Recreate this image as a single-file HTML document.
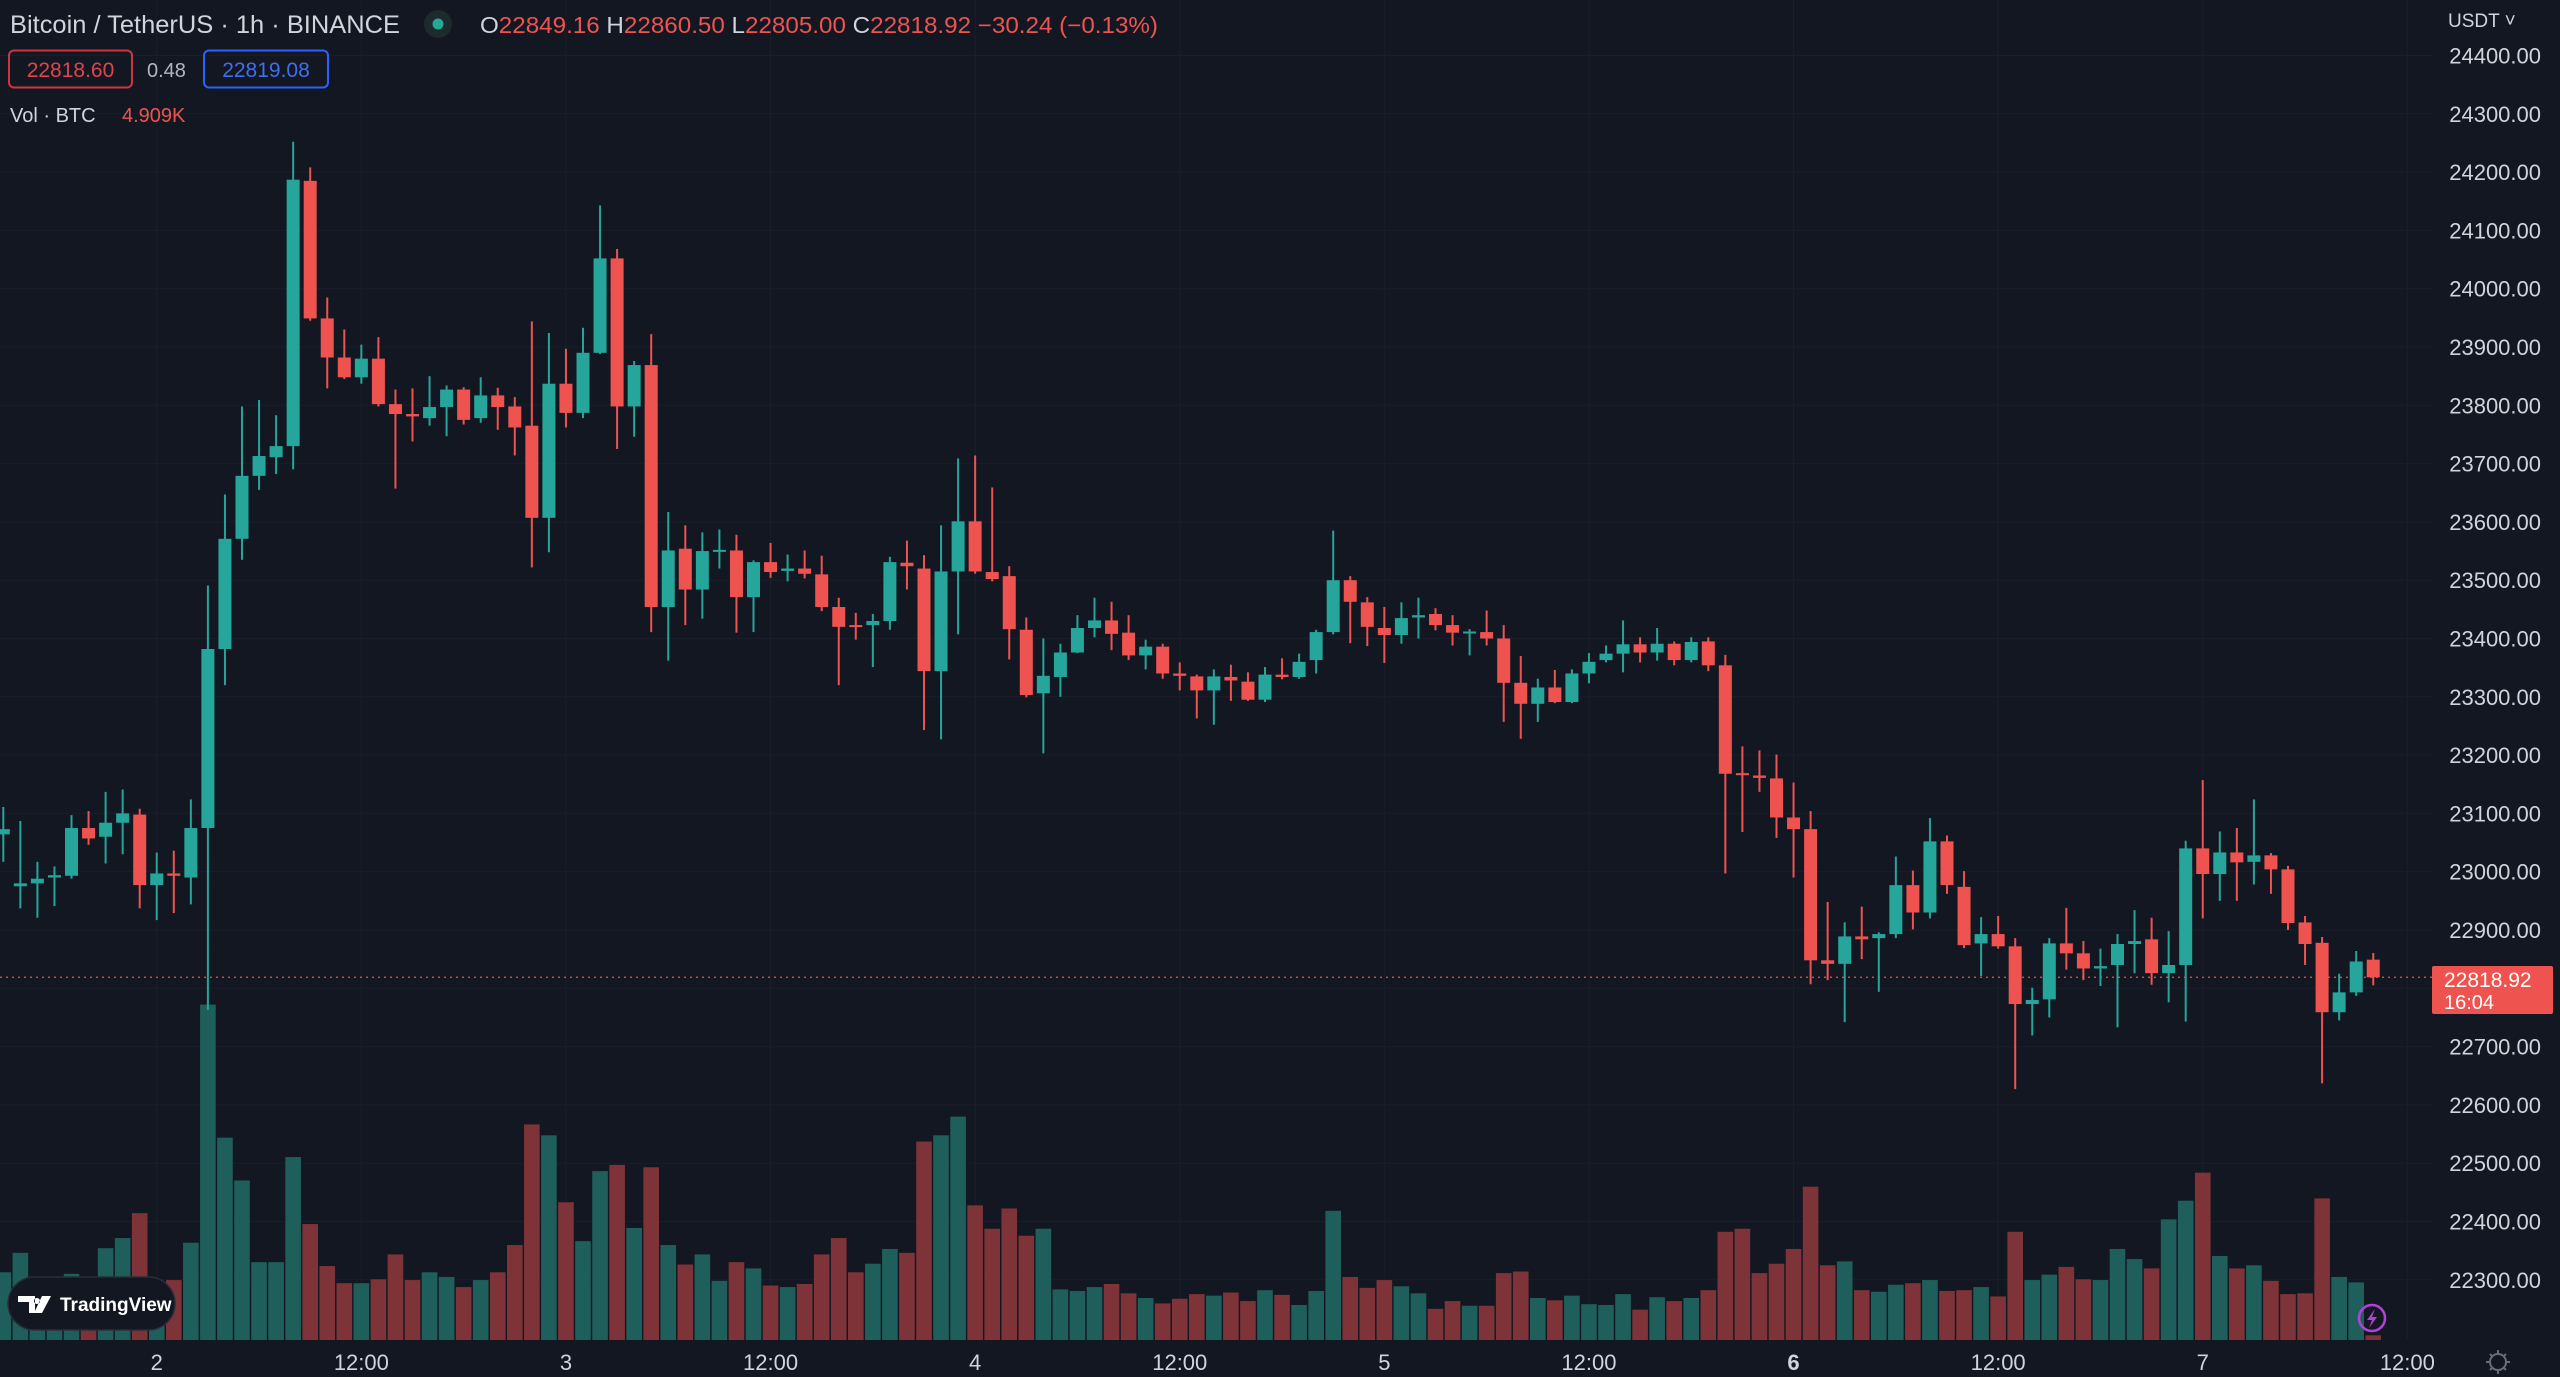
<!DOCTYPE html>
<html><head><meta charset="utf-8">
<style>
html,body{margin:0;padding:0;background:#131722;}
body{width:2560px;height:1377px;overflow:hidden;font-family:"Liberation Sans",sans-serif;}
svg{display:block;}
</style></head>
<body>
<svg id="chart" width="2560" height="1377" viewBox="0 0 2560 1377" xmlns="http://www.w3.org/2000/svg">
<rect x="0" y="0" width="2560" height="1377" fill="#131722"/>
<g id="grid"></g>
<g id="vol"></g>
<g id="candles"></g>
<g id="axis"></g>
<g id="taxis"></g>

<g font-family="Liberation Sans, sans-serif">
 <text x="10" y="33" font-size="25" fill="#d1d4dc" textLength="390" lengthAdjust="spacingAndGlyphs">Bitcoin / TetherUS · 1h · BINANCE</text>
 <circle cx="438" cy="24" r="14" fill="#1e2b2e"/>
 <circle cx="438" cy="24" r="5.5" fill="#22ab94"/>
 <text x="480" y="33" font-size="23" fill="#ef5350" textLength="678" lengthAdjust="spacingAndGlyphs"><tspan fill="#d1d4dc">O</tspan>22849.16 <tspan fill="#d1d4dc">H</tspan>22860.50 <tspan fill="#d1d4dc">L</tspan>22805.00 <tspan fill="#d1d4dc">C</tspan>22818.92 −30.24 (−0.13%)</text>
 <rect x="9" y="50.5" width="123" height="37" rx="5" fill="none" stroke="#d0353f" stroke-width="2"/>
 <text x="70.5" y="77" font-size="21" fill="#e0444d" text-anchor="middle">22818.60</text>
 <text x="147" y="77" font-size="20" fill="#b2b5be">0.48</text>
 <rect x="204" y="50.5" width="124" height="37" rx="5" fill="none" stroke="#2962ff" stroke-width="2"/>
 <text x="266" y="77" font-size="21" fill="#3d6ff0" text-anchor="middle">22819.08</text>
 <text x="10" y="122" font-size="20" fill="#d1d4dc">Vol · BTC</text>
 <text x="122" y="122" font-size="20" fill="#ef5350">4.909K</text>
 <text x="2448" y="27" font-size="19" fill="#d1d4dc">USDT ˅</text>
</g>

<g>
 <rect x="8" y="1277" width="167" height="53" rx="26.5" fill="#131722" stroke="#2a2e39" stroke-width="1.5"/>
 <path d="M18 1296 h17 v17 h-6 v-11 h-11 z M37 1298 a3 3 0 1 0 0.01 0 M42 1296 h9 l-9 17 h-8 z" fill="#ffffff"/>
 <text x="60" y="1311" font-size="19" font-weight="bold" fill="#ffffff">TradingView</text>
</g>

<g>
 <rect x="2432" y="966" width="121" height="48" rx="2" fill="#ef5350"/>
 <text x="2444" y="987" font-size="21" fill="#ffffff">22818.92</text>
 <text x="2444" y="1009" font-size="20" fill="#ffffff">16:04</text>
</g>

<g>
 <circle cx="2372" cy="1318" r="13" fill="none" stroke="#b042d6" stroke-width="2.5"/>
 <path d="M2375 1309 l-8 11 h5 l-3 8 l8 -11 h-5 z" fill="#b042d6"/>
</g>
<g stroke="#6a6d78" stroke-width="2" fill="none">
 <circle cx="2498" cy="1362" r="8"/>
 <path d="M2498 1350 v4 M2498 1370 v4 M2486 1362 h4 M2506 1362 h4 M2490 1354 l2.5 2.5 M2503.5 1367.5 l2.5 2.5 M2490 1370 l2.5 -2.5 M2503.5 1356.5 l2.5 -2.5"/>
</g>

<script>
// ---- data: hourly candles ----
const opens = [23064,22975,22980,22990,22993,23075,23060,23084,23098,22977,22997,22990,23075,23382,23571,23679,23711,23730,24185,23949,23882,23848,23880,23802,23785,23778,23797,23827,23778,23817,23798,23765,23607,23837,23787,23890,24052,23798,23869,23454,23554,23484,23550,23551,23471,23531,23516,23520,23510,23454,23423,23423,23430,23530,23520,23344,23515,23601,23514,23507,23415,23306,23334,23376,23418,23431,23410,23371,23386,23340,23335,23311,23334,23326,23295,23338,23334,23363,23411,23500,23462,23418,23406,23436,23442,23423,23410,23411,23400,23324,23288,23316,23291,23340,23363,23374,23390,23376,23391,23363,23395,23354,23169,23165,23160,23093,23073,22848,22842,22889,22886,22893,22977,22930,23052,22974,22877,22893,22872,22773,22781,22877,22860,22834,22840,22876,22884,22826,22840,23040,22996,23033,23017,23028,23004,22913,22878,22759,22793,22849.16];
const highs = [23111,23087,23017,23009,23097,23104,23137,23141,23108,23033,23036,23124,23491,23647,23798,23809,23783,24252,24208,23985,23930,23904,23917,23827,23829,23850,23834,23831,23848,23830,23814,23944,23924,23897,23933,24143,24068,23876,23922,23617,23594,23582,23587,23578,23534,23564,23544,23551,23542,23470,23444,23442,23540,23568,23543,23594,23709,23714,23659,23524,23436,23400,23391,23440,23470,23463,23440,23398,23391,23359,23338,23347,23355,23342,23351,23366,23374,23415,23585,23507,23471,23454,23462,23470,23452,23440,23416,23448,23423,23370,23331,23346,23347,23375,23388,23431,23402,23418,23395,23402,23402,23372,23215,23208,23201,23153,23104,22948,22913,22940,22896,23026,23002,23092,23062,23001,22922,22924,22886,22801,22886,22938,22881,22868,22893,22934,22921,22898,23053,23157,23069,23075,23124,23032,23010,22924,22888,22825,22864,22860.50];
const lows = [23017,22937,22921,22941,22988,23046,23014,23030,22937,22917,22929,22944,22763,23320,23535,23655,23682,23690,23945,23829,23845,23837,23798,23657,23738,23765,23747,23767,23770,23758,23714,23522,23548,23762,23778,23888,23725,23746,23411,23362,23423,23434,23520,23410,23411,23504,23498,23503,23447,23320,23398,23351,23415,23484,23243,23227,23407,23511,23498,23364,23299,23203,23300,23375,23402,23380,23363,23347,23331,23311,23263,23252,23293,23293,23291,23330,23331,23340,23407,23392,23387,23358,23391,23400,23414,23388,23371,23388,23257,23228,23257,23289,23289,23323,23359,23342,23359,23362,23354,23359,23344,22997,23068,23137,23058,22990,22807,22814,22742,22850,22794,22886,22901,22920,22962,22869,22821,22868,22627,22719,22750,22832,22814,22804,22733,22826,22806,22776,22743,22920,22950,22950,22978,22962,22900,22840,22637,22745,22787,22805.00];
const closes = [23073,22980,22988,22994,23075,23057,23084,23100,22977,22997,22993,23075,23382,23571,23679,23713,23730,24187,23949,23882,23848,23880,23802,23785,23781,23797,23827,23775,23817,23797,23762,23607,23837,23787,23890,24052,23798,23869,23454,23551,23484,23550,23552,23471,23531,23514,23520,23511,23454,23420,23420,23430,23531,23524,23344,23515,23601,23515,23502,23416,23303,23336,23376,23418,23431,23408,23371,23386,23340,23336,23311,23335,23328,23295,23338,23334,23360,23411,23500,23463,23420,23406,23435,23440,23423,23410,23412,23400,23324,23288,23316,23291,23340,23360,23374,23390,23376,23391,23363,23394,23354,23168,23167,23161,23093,23073,22848,22842,22889,22884,22893,22977,22930,23052,22977,22874,22893,22872,22773,22780,22877,22860,22834,22838,22876,22881,22826,22840,23040,22996,23033,23016,23028,23004,22912,22876,22759,22793,22846,22818.92];
const volumes = [87,112,55,45,85,55,118,131,163,55,77,125,431,260,205,100,100,235,149,95,73,73,78,110,77,87,81,68,77,87,122,277,263,177,127,217,225,144,222,122,97,110,76,100,92,70,68,72,110,131,87,98,117,112,255,263,287,173,143,169,134,143,65,63,68,72,60,54,47,53,59,57,61,50,64,58,45,63,166,81,67,77,69,60,40,50,44,44,86,88,54,51,57,46,45,59,39,55,50,54,64,139,143,86,98,117,197,96,101,64,62,71,73,77,63,64,68,56,139,77,84,94,78,77,117,104,92,155,179,215,108,92,96,76,59,60,182,81,74,6];
const priceTicks = [24400,24300,24200,24100,24000,23900,23800,23700,23600,23500,23400,23300,23200,23100,23000,22900,22800,22700,22600,22500,22400,22300];
const timeTickIndex = [9,21,33,45,57,69,81,93,105,117,129,141];
const timeTickLabels = ["2","12:00","3","12:00","4","12:00","5","12:00","6","12:00","7","12:00"];
const lastPrice = 22818.92;

// ---- axis functions ----
const X0 = 3.3, STEP = 17.05;
function xAt(i){ return X0 + STEP*i; }
function yPrice(p){ return 55.5 + (24400 - p) * 0.583; }
function yVol(v){ return 1340 - v / 1.285; }

const NS = "http://www.w3.org/2000/svg";
function mk(tag, attrs, parent){
  const e = document.createElementNS(NS, tag);
  for (const k in attrs) e.setAttribute(k, attrs[k]);
  parent.appendChild(e);
  return e;
}
const gGrid = document.getElementById('grid');
const gVol = document.getElementById('vol');
const gC = document.getElementById('candles');
const gAx = document.getElementById('axis');
const gT = document.getElementById('taxis');

priceTicks.forEach(p => {
  const l = mk('line', {x1:0, x2:2432, y1:yPrice(p), y2:yPrice(p), stroke:'#1a1e2a', 'stroke-width':1}, gGrid);
  
  
  const t = mk('text', {x:2541, y:yPrice(p)+8, 'font-size':22, fill:'#d1d4dc', 'text-anchor':'end'}, gAx);
  t.textContent = p.toFixed(2);
  
  
});
timeTickIndex.forEach((ti, k) => {
  const l = mk('line', {x1:xAt(ti), x2:xAt(ti), y1:0, y2:1340, stroke:'#1a1e2a', 'stroke-width':1}, gGrid);
  
  
  const t = mk('text', {x:xAt(ti), y:1370, 'font-size':22, fill:'#d1d4dc', 'text-anchor':'middle', 'font-weight': timeTickLabels[k]==="6" ? 'bold' : 'normal'}, gT);
  t.textContent = timeTickLabels[k];
  
  
});

volumes.forEach((v, i) => {
  const up = closes[i] >= opens[i];
  const top = yVol(v);
  const r = mk('rect', {x:xAt(i)-7.8, y:top, width:15.6, height:1340-top, fill: up ? '#1f5f5b' : '#7e3338'}, gVol);
  
  
});

opens.forEach((o, i) => {
  const c = closes[i];
  const up = c >= o;
  const col = up ? '#26a69a' : '#ef5350';
  const g = mk('g', {}, gC);
  
  
  mk('line', {x1:xAt(i), x2:xAt(i), y1:yPrice(highs[i]), y2:yPrice(lows[i]), stroke:col, 'stroke-width':2}, g);
  const yt = yPrice(Math.max(o, c)), yb = yPrice(Math.min(o, c));
  mk('rect', {x:xAt(i)-6.5, y:yt, width:13, height:Math.max(2, yb-yt), fill:col}, g);
});

const lp = mk('line', {x1:0, x2:2432, y1:yPrice(lastPrice), y2:yPrice(lastPrice), stroke:'#ef5350', 'stroke-width':1.2, 'stroke-dasharray':'2 4'}, gGrid);


</script>
</svg>
</body></html>
